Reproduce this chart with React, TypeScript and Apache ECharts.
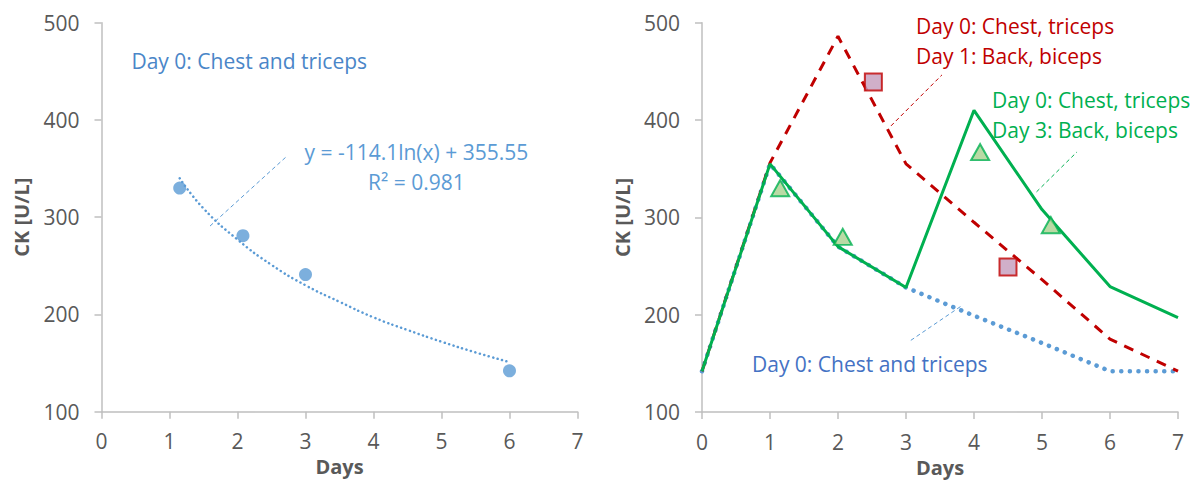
import React, { useEffect, useRef } from "react";
import * as echarts from "echarts";

// ---------- data ----------
const dayMin = 0;
const dayMax = 7;
const ckMin = 100;
const ckMax = 500;

// Left panel: measured CK after chest & triceps session
const leftMeasuredDays = [1.15, 2.08, 3.0, 6.0];
const leftMeasuredCK = [330, 281, 241, 142];
// Logarithmic trend line (as drawn)
const trendDays = [1.15, 1.5, 2, 2.5, 3, 3.5, 4, 4.5, 5, 5.5, 6];
const trendCK = [340, 309, 277, 251, 230, 213, 197, 184, 172, 161, 151];
const trendEquation = "y = -114.1ln(x) + 355.55";
const trendR2 = "R² = 0.981";

// Right panel: modelled curves (day 0..7)
const rightDays = [0, 1, 2, 3, 4, 5, 6, 7];
const singleSessionCK = [142, 355, 270, 228, 199, 171, 142, 142];
const backDay1CK = [142, 356, 486, 355, 295, 236, 175, 142];
const backDay3CK = [142, 355, 270, 228, 410, 308, 229, 197];
// Measured points
const squareDays = [2.52, 4.5];
const squareCK = [439, 249];
const triangleDays = [1.15, 2.07, 4.09, 5.13];
const triangleCK = [330, 280, 367, 292];

// Annotations (anchors in data coordinates)
const leftTitleText = "Day 0: Chest and triceps";
const leftTitleAt = [0.44, 460.6];
const leftEqAt = [4.63, 367.3];
const leftR2At = [4.63, 336.5];
const leftLeader = [[1.596, 290.9], [2.713, 361.9]];

const redLines = ["Day 0: Chest, triceps", "Day 1: Back, biceps"];
const redAt = [[3.147, 496.3], [3.147, 465.8]];
const redLeader = [[2.779, 394.0], [3.529, 446.4]];
const greenLines = ["Day 0: Chest, triceps", "Day 3: Back, biceps"];
const greenAt = [[4.265, 420.6], [4.265, 389.8]];
const greenLeader = [[4.919, 326.2], [5.515, 367.3]];
const blueText = "Day 0: Chest and triceps";
const blueAt = [0.735, 149.1];
const blueLeader = [[3.071, 173.7], [3.816, 209.1]];

// ---------- styles ----------
const FONT = "Open Sans";
const AXIS_GRAY = "#BFBFBF";
const LABEL_GRAY = "#595959";
const BLUE = "#5B9BD5";
const BLUE_TEXT = "#4472C4";
const RED = "#C00000";
const GREEN = "#00B050";

const zip = (xs: number[], ys: number[]) => xs.map((x, i) => [x, ys[i]]);

function makeXAxis(gridIndex: number) {
  return {
    gridIndex,
    type: "value",
    min: dayMin,
    max: dayMax,
    interval: 1,
    axisLine: { show: true, onZero: false, lineStyle: { color: AXIS_GRAY, width: 1.5 } },
    axisTick: { show: true, length: 7, lineStyle: { color: AXIS_GRAY, width: 1.5 } },
    splitLine: { show: false },
    axisLabel: { color: LABEL_GRAY, fontSize: 21, fontFamily: FONT, margin: 19 },
    name: "Days",
    nameLocation: "middle",
    nameGap: 42,
    nameTextStyle: { color: LABEL_GRAY, fontSize: 20, fontWeight: "bold", fontFamily: FONT },
  };
}

function makeYAxis(gridIndex: number) {
  return {
    gridIndex,
    type: "value",
    min: ckMin,
    max: ckMax,
    interval: 100,
    axisLine: { show: true, onZero: false, lineStyle: { color: AXIS_GRAY, width: 1.5 } },
    axisTick: { show: true, length: 7, lineStyle: { color: AXIS_GRAY, width: 1.5 } },
    splitLine: { show: false },
    axisLabel: { color: LABEL_GRAY, fontSize: 21, fontFamily: FONT, margin: 22 },
    name: "CK [U/L]",
    nameLocation: "middle",
    nameGap: 70,
    nameTextStyle: { color: LABEL_GRAY, fontSize: 20, fontWeight: "bold", fontFamily: FONT },
  };
}

export default function App() {
  const ref = useRef<HTMLDivElement>(null);

  useEffect(() => {
    if (!ref.current) return;
    const chart = echarts.init(ref.current, undefined, { renderer: "svg" });

    chart.setOption({
      animation: false,
      backgroundColor: "#ffffff",
      grid: [
        { left: 101.5, top: 22.7, width: 476, height: 389 },
        { left: 702, top: 22.7, width: 476, height: 389.5 },
      ],
      xAxis: [makeXAxis(0), makeXAxis(1)],
      yAxis: [makeYAxis(0), makeYAxis(1)],
      series: [
        // left panel
        {
          type: "line",
          xAxisIndex: 0,
          yAxisIndex: 0,
          data: zip(trendDays, trendCK),
          smooth: true,
          showSymbol: false,
          lineStyle: { color: BLUE, width: 2.5, type: [0.1, 4.5], cap: "round" },
          z: 2,
        },
        {
          type: "scatter",
          xAxisIndex: 0,
          yAxisIndex: 0,
          data: zip(leftMeasuredDays, leftMeasuredCK),
          symbol: "circle",
          symbolSize: 13,
          itemStyle: { color: BLUE },
          z: 3,
        },
        // right panel
        {
          type: "line",
          xAxisIndex: 1,
          yAxisIndex: 1,
          data: zip(rightDays, singleSessionCK),
          showSymbol: false,
          lineStyle: { color: BLUE, width: 4.5, type: [0.1, 8.5], cap: "round" },
          z: 2,
        },
        {
          type: "line",
          xAxisIndex: 1,
          yAxisIndex: 1,
          data: zip(rightDays, backDay1CK),
          showSymbol: false,
          lineStyle: { color: RED, width: 3, type: [10, 8] },
          z: 3,
        },
        {
          type: "line",
          xAxisIndex: 1,
          yAxisIndex: 1,
          data: zip(rightDays, backDay3CK),
          showSymbol: false,
          lineStyle: { color: GREEN, width: 3 },
          z: 4,
        },
        {
          type: "scatter",
          xAxisIndex: 1,
          yAxisIndex: 1,
          data: zip(squareDays, squareCK),
          symbol: "rect",
          symbolSize: 17,
          itemStyle: { color: "#C49BBB", borderColor: RED, borderWidth: 2 },
          z: 5,
        },
        {
          type: "scatter",
          xAxisIndex: 1,
          yAxisIndex: 1,
          data: zip(triangleDays, triangleCK),
          symbol: "triangle",
          symbolSize: [18, 16],
          itemStyle: { color: "#A9D18E", borderColor: GREEN, borderWidth: 2 },
          z: 5,
        },
      ],
    });

    const px = (g: number, p: number[]) =>
      chart.convertToPixel({ gridIndex: g }, p) as number[];

    const text = (g: number, p: number[], s: string, fill: string, align = "left") => {
      const [x, y] = px(g, p);
      return {
        type: "text",
        x,
        y,
        z: 10,
        style: {
          text: s,
          fill,
          fontSize: 21,
          fontFamily: FONT,
          align,
          verticalAlign: "middle",
          textAlign: align,
          textVerticalAlign: "middle",
        },
      };
    };
    const leader = (g: number, pts: number[][], stroke: string) => {
      const [x1, y1] = px(g, pts[0]);
      const [x2, y2] = px(g, pts[1]);
      return {
        type: "line",
        z: 10,
        shape: { x1, y1, x2, y2 },
        style: { stroke, lineWidth: 1, lineDash: [4, 3] },
      };
    };

    chart.setOption({
      graphic: [
        text(0, leftTitleAt, leftTitleText, "#4A86C8"),
        text(0, leftEqAt, trendEquation, BLUE, "center"),
        text(0, leftR2At, trendR2, BLUE, "center"),
        leader(0, leftLeader, BLUE),
        text(1, redAt[0], redLines[0], RED),
        text(1, redAt[1], redLines[1], RED),
        leader(1, redLeader, RED),
        text(1, greenAt[0], greenLines[0], GREEN),
        text(1, greenAt[1], greenLines[1], GREEN),
        leader(1, greenLeader, GREEN),
        text(1, blueAt, blueText, BLUE_TEXT),
        leader(1, blueLeader, BLUE),
      ],
    });

    return () => chart.dispose();
  }, []);

  return (
    <div
      ref={ref}
      style={{ position: "fixed", left: 0, top: 0, width: 1203, height: 482, background: "#fff" }}
    />
  );
}
